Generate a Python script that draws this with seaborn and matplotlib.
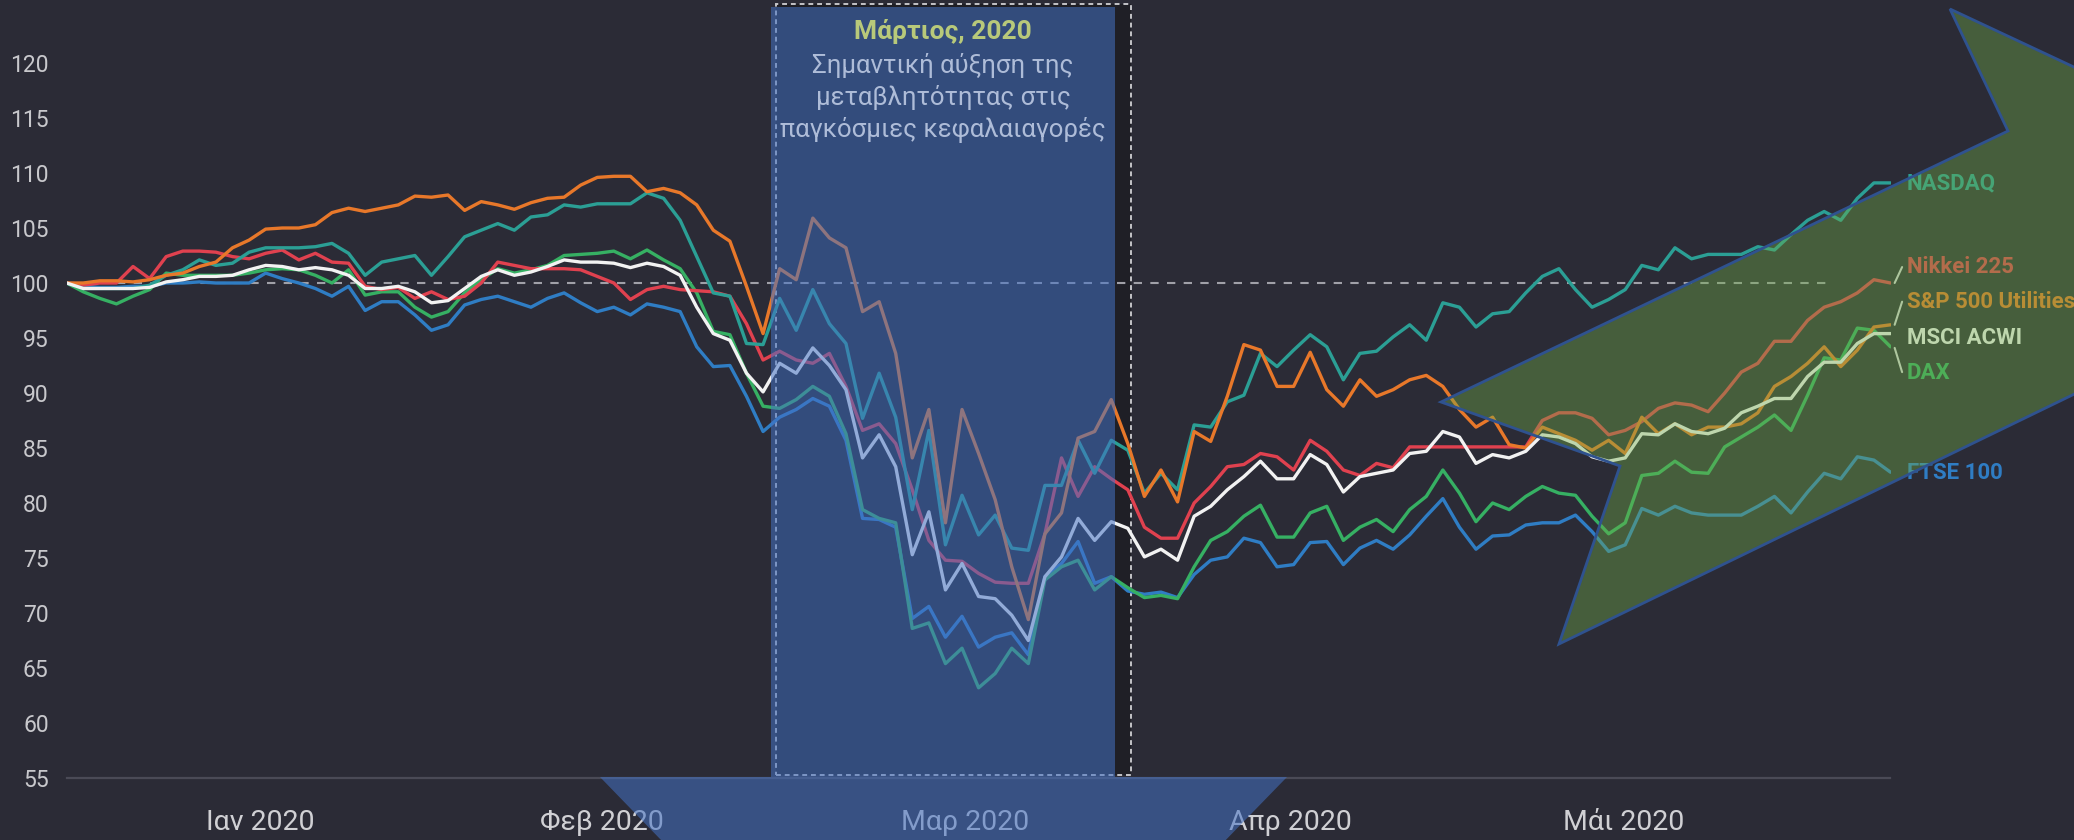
import numpy as np
import pandas as pd
import matplotlib
matplotlib.use("Agg")
import matplotlib.pyplot as plt
from matplotlib.patches import Polygon, Rectangle
import seaborn as sns

# ---- data: indices rebased to 100 on 1 Jan 2020, one value per weekday ----
trading_days = pd.bdate_range("2020-01-01", "2020-06-03")

nasdaq = [
    100, 99.5, 99.5, 99.5, 99.5, 99.8, 100.7, 101.2, 102.1, 101.6, 101.8, 102.8, 103.2, 103.2, 103.2, 103.3, 103.6, 102.7, 100.7, 101.9, 102.2, 102.5, 100.7, 102.4,
    104.2, 104.8, 105.4, 104.8, 106.0, 106.2, 107.1, 106.9, 107.2, 107.2, 107.2, 108.2, 107.7, 105.7, 102.4, 99.1, 98.8, 94.5, 94.4,
    98.6, 95.7, 99.4, 96.3, 94.5, 87.7, 91.8, 87.8, 79.4, 86.6, 76.2, 80.7, 77.1, 78.9, 75.9, 75.7, 81.6, 81.6, 85.7, 82.7, 85.7,
    84.8, 80.9, 82.7, 81.2, 87.1, 86.9, 89.2, 89.8, 93.6, 92.4, 93.9, 95.3, 94.2, 91.2, 93.6, 93.8, 95.1, 96.2, 94.8, 98.2, 97.8, 96.0, 97.2,
    97.4, 99.1, 100.6, 101.3, 99.4, 97.8, 98.5, 99.4, 101.6, 101.2, 103.2, 102.2, 102.6, 102.6, 102.6, 103.3, 103.0, 104.4, 105.7, 106.5, 105.7, 107.7, 109.1, 109.1,
]
nikkei = [
    100, 99.8, 100, 100, 101.5, 100.4, 102.4, 102.9, 102.9, 102.8, 102.4, 102.2, 102.7, 103.0, 102.1, 102.7, 101.9, 101.8, 99.7, 99.4, 99.6, 98.6, 99.2, 98.5,
    98.8, 100.0, 101.9, 101.6, 101.3, 101.3, 101.3, 101.2, 100.6, 100.0, 98.5, 99.4, 99.7, 99.4, 99.3, 99.2, 98.8, 96.3, 93.0,
    93.8, 93.0, 92.7, 93.6, 90.6, 86.6, 87.2, 85.4, 81.2, 76.6, 74.8, 74.7, 73.6, 72.8, 72.7, 72.7, 77.2, 84.1, 80.6, 83.3, 82.2,
    81.2, 77.8, 76.8, 76.8, 80.0, 81.5, 83.3, 83.5, 84.5, 84.2, 83.0, 85.7, 84.7, 83.0, 82.5, 83.6, 83.2, 85.1, 85.1, 85.1, 85.1, 85.1, 85.1,
    85.1, 85.1, 87.5, 88.2, 88.2, 87.7, 86.2, 86.6, 87.4, 88.6, 89.1, 88.9, 88.3, 90.0, 91.9, 92.7, 94.7, 94.7, 96.6, 97.8, 98.3, 99.1, 100.3, 100.0,
]
utilities = [
    100, 100, 100.2, 100.2, 100.1, 100.3, 100.7, 100.9, 101.5, 101.9, 103.2, 103.9, 104.9, 105.0, 105.0, 105.3, 106.4, 106.8, 106.5, 106.8, 107.1, 107.9, 107.8, 108.0,
    106.6, 107.4, 107.1, 106.7, 107.3, 107.7, 107.8, 108.9, 109.6, 109.7, 109.7, 108.3, 108.6, 108.2, 107.1, 104.8, 103.8, 99.7, 95.4,
    101.3, 100.3, 105.9, 104.1, 103.2, 97.4, 98.3, 93.6, 84.1, 88.5, 78.2, 88.5, 84.5, 80.3, 74.2, 69.4, 77.2, 79.1, 85.9, 86.5, 89.4,
    85.4, 80.6, 83.0, 80.1, 86.5, 85.6, 89.7, 94.4, 93.9, 90.6, 90.6, 93.7, 90.3, 88.8, 91.2, 89.7, 90.3, 91.2, 91.6, 90.6, 88.5, 86.9, 87.8,
    85.3, 85.0, 86.9, 86.3, 85.7, 84.8, 85.7, 84.5, 87.8, 86.3, 87.2, 86.2, 86.9, 86.9, 87.2, 88.2, 90.6, 91.5, 92.7, 94.2, 92.4, 93.9, 96.0, 96.2,
]
msci_acwi = [
    100, 99.5, 99.5, 99.5, 99.5, 99.6, 100.1, 100.3, 100.6, 100.6, 100.7, 101.2, 101.6, 101.5, 101.2, 101.4, 101.2, 100.7, 99.5, 99.5, 99.7, 99.2, 98.2, 98.4,
    99.5, 100.6, 101.2, 100.7, 101.0, 101.5, 102.1, 101.9, 101.9, 101.8, 101.4, 101.8, 101.5, 100.7, 97.8, 95.4, 94.8, 91.8, 90.1,
    92.7, 91.8, 94.1, 92.5, 90.3, 84.1, 86.2, 83.3, 75.3, 79.2, 72.1, 74.5, 71.5, 71.3, 69.8, 67.5, 73.3, 75.1, 78.6, 76.6, 78.3,
    77.7, 75.1, 75.8, 74.8, 78.8, 79.7, 81.2, 82.4, 83.8, 82.2, 82.2, 84.4, 83.5, 81.0, 82.4, 82.7, 83.0, 84.5, 84.7, 86.5, 86.0, 83.6, 84.4,
    84.1, 84.7, 86.2, 86.0, 85.4, 84.2, 83.8, 84.1, 86.3, 86.2, 87.2, 86.5, 86.3, 86.8, 88.2, 88.8, 89.5, 89.5, 91.5, 92.8, 92.8, 94.5, 95.4, 95.4,
]
dax = [
    100, 99.2, 98.6, 98.1, 98.8, 99.4, 100.9, 100.7, 100.7, 100.7, 100.7, 100.9, 101.2, 101.3, 101.2, 100.7, 100.0, 101.2, 98.9, 99.2, 99.2, 97.8, 96.9, 97.4,
    99.1, 100.3, 101.3, 100.9, 101.2, 101.6, 102.5, 102.6, 102.7, 102.9, 102.2, 103.0, 102.1, 101.3, 99.1, 95.6, 95.3, 91.8, 88.8,
    88.6, 89.4, 90.6, 89.7, 86.3, 79.4, 78.6, 78.2, 68.6, 69.1, 65.4, 66.8, 63.2, 64.5, 66.8, 65.4, 73.0, 74.2, 74.8, 72.1, 73.3,
    72.3, 71.4, 71.6, 71.3, 74.2, 76.6, 77.4, 78.8, 79.8, 76.9, 76.9, 79.1, 79.7, 76.6, 77.8, 78.5, 77.4, 79.4, 80.6, 83.0, 80.9, 78.3, 80.0,
    79.4, 80.6, 81.5, 80.9, 80.7, 78.8, 77.2, 78.2, 82.5, 82.7, 83.8, 82.8, 82.7, 85.1, 86.0, 86.9, 88.0, 86.6, 89.8, 93.2, 93.0, 95.9, 95.7, 94.2,
]
ftse_100 = [
    100, 99.7, 99.6, 99.6, 99.7, 99.7, 100.0, 100.0, 100.1, 100.0, 100.0, 100.0, 100.9, 100.4, 100.0, 99.5, 98.8, 99.7, 97.5, 98.3, 98.3, 97.1, 95.7, 96.2,
    98.0, 98.5, 98.8, 98.3, 97.8, 98.6, 99.1, 98.2, 97.4, 97.8, 97.1, 98.1, 97.8, 97.4, 94.2, 92.4, 92.5, 89.7, 86.5,
    87.8, 88.5, 89.5, 88.8, 85.7, 78.6, 78.5, 77.8, 69.5, 70.6, 67.8, 69.7, 66.9, 67.8, 68.2, 66.2, 73.3, 74.5, 76.5, 72.7, 73.3,
    72.0, 71.7, 71.9, 71.4, 73.5, 74.8, 75.1, 76.8, 76.4, 74.2, 74.4, 76.4, 76.5, 74.4, 75.9, 76.6, 75.8, 77.1, 78.8, 80.4, 77.8, 75.8, 77.0,
    77.1, 78.0, 78.2, 78.2, 78.9, 77.4, 75.6, 76.2, 79.5, 78.9, 79.7, 79.1, 78.9, 78.9, 78.9, 79.7, 80.6, 79.1, 81.0, 82.7, 82.2, 84.2, 83.9, 82.8,
]

month_labels = ["Ιαν 2020", "Φεβ 2020", "Μαρ 2020", "Απρ 2020", "Μάι 2020"]
y_ticks = list(range(55, 125, 5))

series = {
    "NASDAQ": nasdaq,
    "Nikkei 225": nikkei,
    "S&P 500 Utilities": utilities,
    "MSCI ACWI": msci_acwi,
    "DAX": dax,
    "FTSE 100": ftse_100,
}

# ---- styling ----
BG = "#2b2b36"
palette = {
    "NASDAQ": "#2b9f95",
    "Nikkei 225": "#e0414f",
    "S&P 500 Utilities": "#e8782a",
    "MSCI ACWI": "#f2f2f2",
    "DAX": "#36b063",
    "FTSE 100": "#2f7dc4",
}
draw_order = ["FTSE 100", "DAX", "Nikkei 225", "NASDAQ", "S&P 500 Utilities", "MSCI ACWI"]

sns.set_theme(style="dark")
plt.rcParams["font.family"] = ["Roboto", "DejaVu Sans"]

W, H = 2074, 840
fig = plt.figure(figsize=(W / 100, H / 100), dpi=100, facecolor=BG)

# axes placed so the first/last weekday sit on the plot edges
x_left, x_right, y_bottom = 66.7, 1890.5, 778
ax = fig.add_axes([x_left / W, (H - y_bottom) / H, (x_right - x_left) / W, y_bottom / H])
ax.set_facecolor(BG)

n = len(trading_days)
long = pd.DataFrame(
    [(i, name, v) for name, vals in series.items() for i, v in enumerate(vals)],
    columns=["day", "index", "value"],
)

# dark annotation frame behind the lines
frame = Rectangle((776 / W, 1 - 775 / H), (1131 - 776) / W, (775 - 4) / H,
                  transform=fig.transFigure, facecolor=(0, 0, 0, 0.28),
                  edgecolor="#c4c4c8", linewidth=1.4, linestyle=(0, (2.5, 2)), zorder=-1)
fig.add_artist(frame)
ax.set_zorder(1)
ax.patch.set_alpha(0)

ax.hlines(100, 0, 106.5, colors="#a0a0a8", linewidth=1.5, linestyles=(0, (4, 4)), zorder=1)

sns.lineplot(data=long, x="day", y="value", hue="index", hue_order=draw_order,
             palette=palette, estimator=None, sort=False, linewidth=2.4,
             legend=False, ax=ax, zorder=2)

ax.set_xlim(0, n - 1)
ax.set_ylim(55, 55 + y_bottom / 11)
ax.set_xlabel("")
ax.set_ylabel("")
ax.set_yticks(y_ticks)
ax.set_yticklabels([str(t) for t in y_ticks])
ax.set_xticks([11.7, 32.3, 54.2, 73.8, 93.9])
ax.set_xticklabels(month_labels)
ax.tick_params(axis="y", length=0, pad=13, labelsize=16.5, labelcolor="#c8c8cc")
ax.tick_params(axis="x", length=0, pad=22, labelsize=20.5, labelcolor="#d0d0d4")
ax.grid(False)
for side in ["left", "right", "top"]:
    ax.spines[side].set_visible(False)
ax.spines["bottom"].set_color("#4a4a56")
ax.spines["bottom"].set_linewidth(1.6)

# end-of-line labels with short leaders
end_x = n - 1
leaders = {
    "Nikkei 225": (100.0, 101.45),
    "S&P 500 Utilities": (96.2, 98.3),
    "DAX": (94.1, 91.9),
}
for name, (y0, y1) in leaders.items():
    ax.plot([end_x + 0.25, end_x + 0.7], [y0, y1], color="#d8d8d8", linewidth=1.5,
            clip_on=False, zorder=3)
label_y = {
    "NASDAQ": 109.1,
    "Nikkei 225": 101.45,
    "S&P 500 Utilities": 98.3,
    "MSCI ACWI": 95.0,
    "DAX": 91.8,
    "FTSE 100": 82.7,
}
for name, yv in label_y.items():
    ax.text(end_x + 1.0, yv, name, color=palette[name], fontsize=16, fontweight="bold",
            va="center", ha="left", clip_on=False, zorder=3)


def to_fig(points):
    pts = np.asarray(points, dtype=float)
    return np.column_stack([pts[:, 0] / W, 1 - pts[:, 1] / H])


# big translucent down arrow: shaft over March, head below the axis
down_arrow = [(771, 7), (1115, 7), (1115, 777), (1287, 777), (943, 1131), (600, 777), (771, 777)]
fig.add_artist(Polygon(to_fig(down_arrow), closed=True, transform=fig.transFigure,
                       facecolor="#4472c4", alpha=0.55, edgecolor="none", zorder=5))

# notched up-right arrow over the recovery
up_arrow = [(1441, 402), (2008, 131), (1950, 9), (2266, 157), (2184, 490),
            (2126, 369), (1559, 644), (1620, 466)]
fig.add_artist(Polygon(to_fig(up_arrow), closed=True, transform=fig.transFigure,
                       facecolor=(0.439, 0.678, 0.278, 0.40), edgecolor="#2f528f",
                       linewidth=2.0, zorder=5))

# annotation text inside the March band
fig.text(943 / W, 1 - 31 / H, "Μάρτιος, 2020", color="#b8c97a", fontsize=19,
         fontweight="bold", ha="center", va="center", zorder=6)
for k, line in enumerate(["Σημαντική αύξηση της", "μεταβλητότητας στις",
                          "παγκόσμιες κεφαλαιαγορές"]):
    fig.text(943 / W, 1 - (65 + 32.5 * k) / H, line, color="#aebcd8", fontsize=18.5,
             ha="center", va="center", zorder=6)

fig.savefig("out.png", dpi=100, facecolor=BG)
